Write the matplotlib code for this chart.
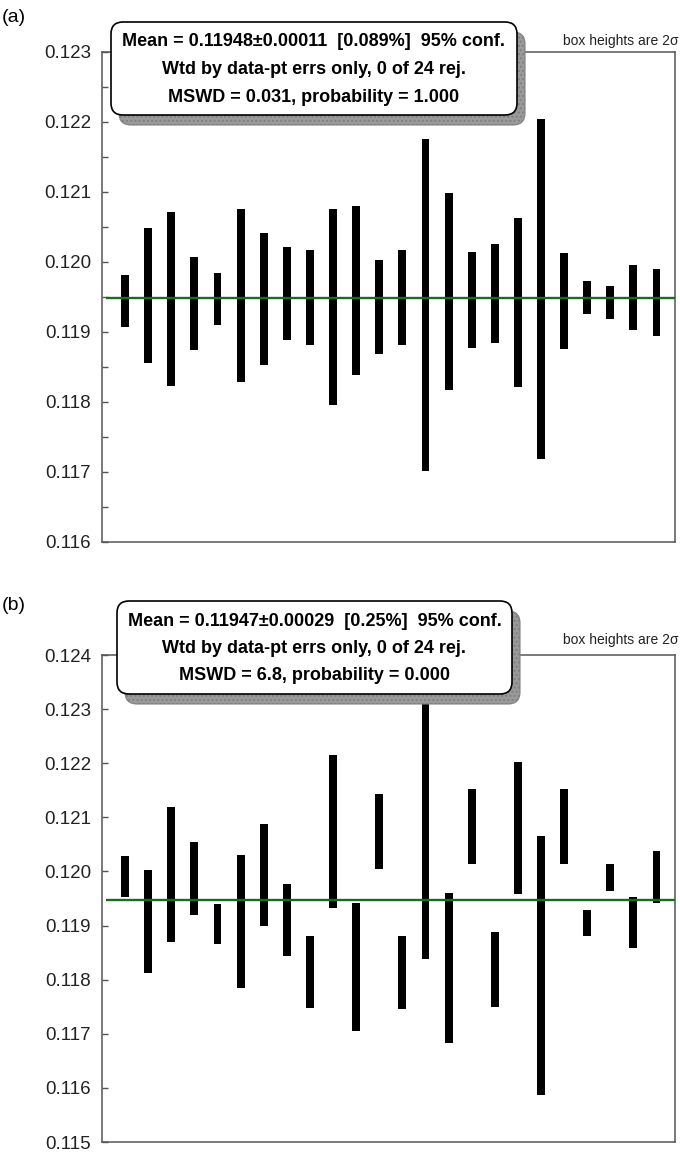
import matplotlib
matplotlib.use("Agg")
import matplotlib.pyplot as plt
from matplotlib.patches import FancyBboxPatch
from matplotlib.ticker import MultipleLocator, FormatStrFormatter

plt.rcParams['font.family'] = ['Liberation Sans', 'DejaVu Sans']

# analysis number 1..24
analysis = list(range(1, 25))

# panel (a): box bottoms / tops (2 sigma)
a_low = [0.11907, 0.11856, 0.11823, 0.11874, 0.11910, 0.11829, 0.11853, 0.11888,
         0.11881, 0.11796, 0.11838, 0.11868, 0.11881, 0.11702, 0.11817, 0.11877,
         0.11885, 0.11822, 0.11719, 0.11876, 0.11926, 0.11918, 0.11903, 0.11895]
a_high = [0.11982, 0.12048, 0.12072, 0.12007, 0.11984, 0.12076, 0.12041, 0.12021,
          0.12017, 0.12076, 0.12080, 0.12003, 0.12017, 0.12176, 0.12098, 0.12014,
          0.12026, 0.12063, 0.12204, 0.12013, 0.11973, 0.11966, 0.11996, 0.11990]
a_mean = 0.11948

# panel (b)
b_low = [0.11953, 0.11812, 0.11870, 0.11920, 0.11866, 0.11784, 0.11899, 0.11843,
         0.11747, 0.11932, 0.11705, 0.12005, 0.11746, 0.11838, 0.11683, 0.12014,
         0.11750, 0.11959, 0.11586, 0.12014, 0.11881, 0.11964, 0.11859, 0.11941]
b_high = [0.12029, 0.12003, 0.12120, 0.12055, 0.11940, 0.12031, 0.12088, 0.11976,
          0.11881, 0.12216, 0.11942, 0.12143, 0.11881, 0.12317, 0.11960, 0.12153,
          0.11889, 0.12202, 0.12065, 0.12153, 0.11929, 0.12013, 0.11953, 0.12037]
b_mean = 0.11947

a_text = ["Mean = 0.11948\u00b10.00011  [0.089%]  95% conf.",
          "Wtd by data-pt errs only, 0 of 24 rej.",
          "MSWD = 0.031, probability = 1.000"]
b_text = ["Mean = 0.11947\u00b10.00029  [0.25%]  95% conf.",
          "Wtd by data-pt errs only, 0 of 24 rej.",
          "MSWD = 6.8, probability = 0.000"]

W, H = 680, 1153
fig = plt.figure(figsize=(W / 100, H / 100), dpi=100)


def panel(rect, low, high, mean, ylim, minor):
    ax = fig.add_axes(rect)
    heights = [h - l for l, h in zip(low, high)]
    ax.bar(analysis, heights, bottom=low, width=0.34, color='black', zorder=3)
    ax.hlines(mean, 0.18, 24.8, color='#12701a', lw=1.7, zorder=4)
    ax.set_xlim(0, 24.8)
    ax.set_ylim(*ylim)
    ax.set_xticks([])
    ax.yaxis.set_major_locator(MultipleLocator(0.001))
    ax.yaxis.set_major_formatter(FormatStrFormatter('%.3f'))
    if minor:
        ax.yaxis.set_minor_locator(MultipleLocator(0.0005))
        ax.tick_params(axis='y', which='minor', direction='in', length=4, width=1, color='#555')
    ax.tick_params(axis='y', which='major', direction='in', length=4.5, width=1,
                   color='#555', labelsize=13.5, labelcolor='#222', pad=8)
    for s in ax.spines.values():
        s.set_color('#555')
        s.set_linewidth(1.1)
    return ax


def fy(px):
    return 1 - px / H


panel([102 / W, fy(542), (675 - 102) / W, (542 - 52) / H], a_low, a_high, a_mean,
      (0.116, 0.123), True)
panel([102 / W, fy(1142), (675 - 102) / W, (1142 - 655) / H], b_low, b_high, b_mean,
      (0.115, 0.124), False)

# overlay in pixel units for the stats boxes and labels
ov = fig.add_axes([0, 0, 1, 1])
ov.set_xlim(0, W)
ov.set_ylim(H, 0)
ov.axis('off')


def stat_box(x0, y0, x1, y1, lines, tag, tag_y, note_y):
    shadow = FancyBboxPatch((x0 + 8, y0 + 10), x1 - x0, y1 - y0,
                            boxstyle='round,pad=0,rounding_size=12',
                            facecolor='#9a9a9a', edgecolor='#808080', lw=0.8,
                            hatch='....', zorder=1)
    box = FancyBboxPatch((x0, y0), x1 - x0, y1 - y0,
                         boxstyle='round,pad=0,rounding_size=12',
                         facecolor='white', edgecolor='black', lw=1.2, zorder=2)
    ov.add_patch(shadow)
    ov.add_patch(box)
    cx = (x0 + x1) / 2
    yy = y0 + 20
    for ln in lines:
        ov.text(cx, yy, ln, ha='center', va='center', fontsize=13,
                fontweight='bold', color='black', zorder=3)
        yy += 27.5
    ov.text(2, tag_y, tag, ha='left', va='center', fontsize=14, color='black')
    ov.text(679, note_y, 'box heights are 2\u03c3', ha='right', va='center',
            fontsize=10, color='#222')


stat_box(111, 22, 517, 115, a_text, '(a)', 18, 41)
stat_box(117, 601, 512, 694, b_text, '(b)', 605, 640)

fig.savefig('out.png', dpi=100)
